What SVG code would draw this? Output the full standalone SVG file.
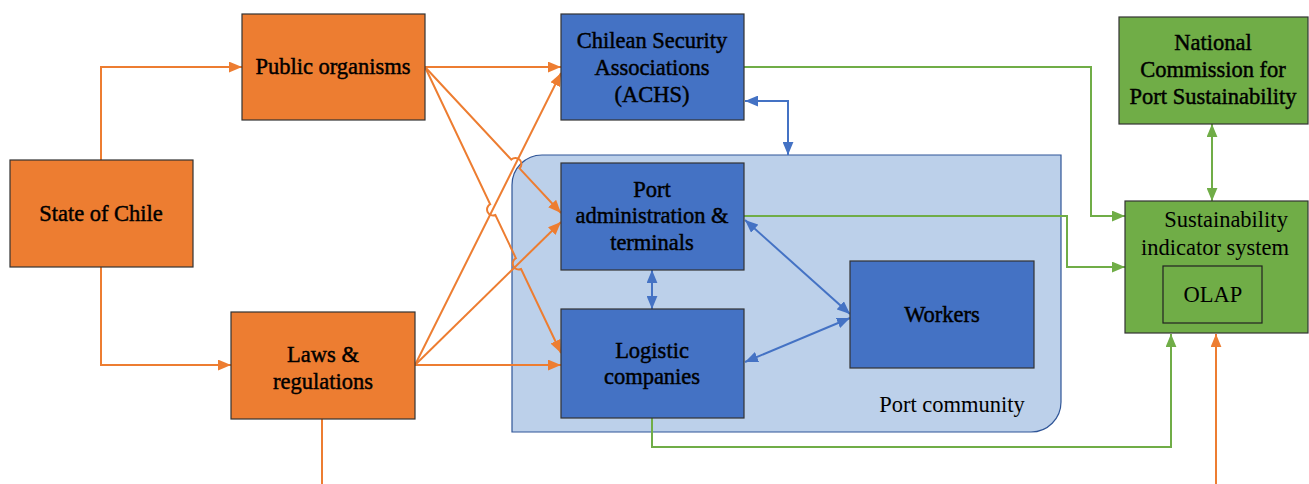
<svg xmlns="http://www.w3.org/2000/svg" width="1309" height="484" viewBox="0 0 1309 484">
<style>
.bo{fill:#ED7D31;stroke:#333;stroke-width:1.2}
.bb{fill:#4472C4;stroke:#333;stroke-width:1.2}
.bg{fill:#70AD47;stroke:#333;stroke-width:1.2}
.t{font-family:'Liberation Serif','DejaVu Serif',serif;font-size:22.5px;fill:#000;stroke:#000;stroke-width:0.45;text-anchor:middle}
.p{font-family:'Liberation Serif','DejaVu Serif',serif;font-size:22.5px;fill:#000;text-anchor:middle}
.co{fill:none;stroke:#ED7D31;stroke-width:2}
.cb{fill:none;stroke:#4472C4;stroke-width:2}
.cg{fill:none;stroke:#70AD47;stroke-width:2}
</style>
<defs>
<marker id="ao" viewBox="0 0 12 10" refX="12" refY="5" markerWidth="13" markerHeight="11" markerUnits="userSpaceOnUse" orient="auto-start-reverse"><path d="M0,0 L12,5 L0,10 z" fill="#ED7D31"/></marker>
<marker id="ab" viewBox="0 0 12 10" refX="12" refY="5" markerWidth="13" markerHeight="11" markerUnits="userSpaceOnUse" orient="auto-start-reverse"><path d="M0,0 L12,5 L0,10 z" fill="#4472C4"/></marker>
<marker id="ag" viewBox="0 0 12 10" refX="12" refY="5" markerWidth="13" markerHeight="11" markerUnits="userSpaceOnUse" orient="auto-start-reverse"><path d="M0,0 L12,5 L0,10 z" fill="#70AD47"/></marker>
</defs>

<g id="port-community">
<path d="M542,155 H1061 V402 A30,30 0 0 1 1031,432 H512 V185 A30,30 0 0 1 542,155 Z" fill="#BCD0EA" stroke="#2F5597" stroke-width="1.2"/>
<text class="p" x="952" y="412" font-family="Liberation Serif">Port community</text>
</g>

<g id="connectors">
<path class="co" d="M101,160 V67 H242" marker-end="url(#ao)"/>
<path class="co" d="M101,267 V365 H231" marker-end="url(#ao)"/>
<path class="co" d="M322,419 V484"/>
<path class="co" d="M1216,484 V334" marker-end="url(#ao)"/>
<path class="co" d="M425,67 H561" marker-end="url(#ao)"/>
<path class="co" d="M425,67 L511.3,159.6 A6,6 0 0 1 519.5,168.4 L561,213" marker-end="url(#ao)"/>
<path class="co" d="M425,67 L490.2,204.2 A6,6 0 0 0 495.4,215.0 L515.9,258.2 A6,6 0 0 0 521.1,269.0 L561,353" marker-end="url(#ao)"/>
<path class="co" d="M415,365 L561,73" marker-end="url(#ao)"/>
<path class="co" d="M415,365 L561,222" marker-end="url(#ao)"/>
<path class="co" d="M415,365 H561" marker-end="url(#ao)"/>

<path class="cb" d="M745,101 H788 V155" marker-start="url(#ab)" marker-end="url(#ab)"/>
<path class="cb" d="M652,270 V309" marker-start="url(#ab)" marker-end="url(#ab)"/>
<path class="cb" d="M745,220 L850,314" marker-start="url(#ab)" marker-end="url(#ab)"/>
<path class="cb" d="M745,362 L850,318" marker-start="url(#ab)" marker-end="url(#ab)"/>

<path class="cg" d="M744,67 H1091 V216 H1125" marker-end="url(#ag)"/>
<path class="cg" d="M744,216 H1067 V267 H1125" marker-end="url(#ag)"/>
<path class="cg" d="M652,418 V447 H1171 V334" marker-end="url(#ag)"/>
<path class="cg" d="M1212,124 V201" marker-start="url(#ag)" marker-end="url(#ag)"/>
</g>

<g id="state-of-chile">
<rect class="bo" x="10" y="160" width="183" height="107"/>
<text class="t" x="101" y="221">State of Chile</text>
</g>
<g id="public-organisms">
<rect class="bo" x="242" y="14" width="183" height="106"/>
<text class="t" x="333" y="74">Public organisms</text>
</g>
<g id="laws-regulations">
<rect class="bo" x="231" y="312" width="184" height="107"/>
<text class="t" x="323" y="362">Laws &amp;</text>
<text class="t" x="323" y="389">regulations</text>
</g>
<g id="achs">
<rect class="bb" x="561" y="14" width="183" height="106"/>
<text class="t" x="652" y="48">Chilean Security</text>
<text class="t" x="652" y="75">Associations</text>
<text class="t" x="652" y="102">(ACHS)</text>
</g>
<g id="port-administration">
<rect class="bb" x="561" y="163" width="183" height="107"/>
<text class="t" x="652" y="197">Port</text>
<text class="t" x="652" y="223">administration &amp;</text>
<text class="t" x="652" y="250">terminals</text>
</g>
<g id="logistic-companies">
<rect class="bb" x="561" y="309" width="183" height="109"/>
<text class="t" x="652" y="358">Logistic</text>
<text class="t" x="652" y="384">companies</text>
</g>
<g id="workers">
<rect class="bb" x="850" y="261" width="184" height="107"/>
<text class="t" x="942" y="322">Workers</text>
</g>
<g id="national-commission">
<rect class="bg" x="1119" y="17" width="189" height="107"/>
<text class="t" x="1213" y="50">National</text>
<text class="t" x="1213" y="77">Commission for</text>
<text class="t" x="1213" y="104">Port Sustainability</text>
</g>
<g id="sustainability-indicator-system">
<rect class="bg" x="1125" y="201" width="183" height="132"/>
<text class="p" x="1226" y="227">Sustainability</text>
<text class="p" x="1215" y="255">indicator system</text>
<g id="olap">
<rect x="1163" y="266" width="99" height="57" fill="none" stroke="#222" stroke-width="1.2"/>
<text class="p" x="1213" y="302">OLAP</text>
</g>
</g>
</svg>
